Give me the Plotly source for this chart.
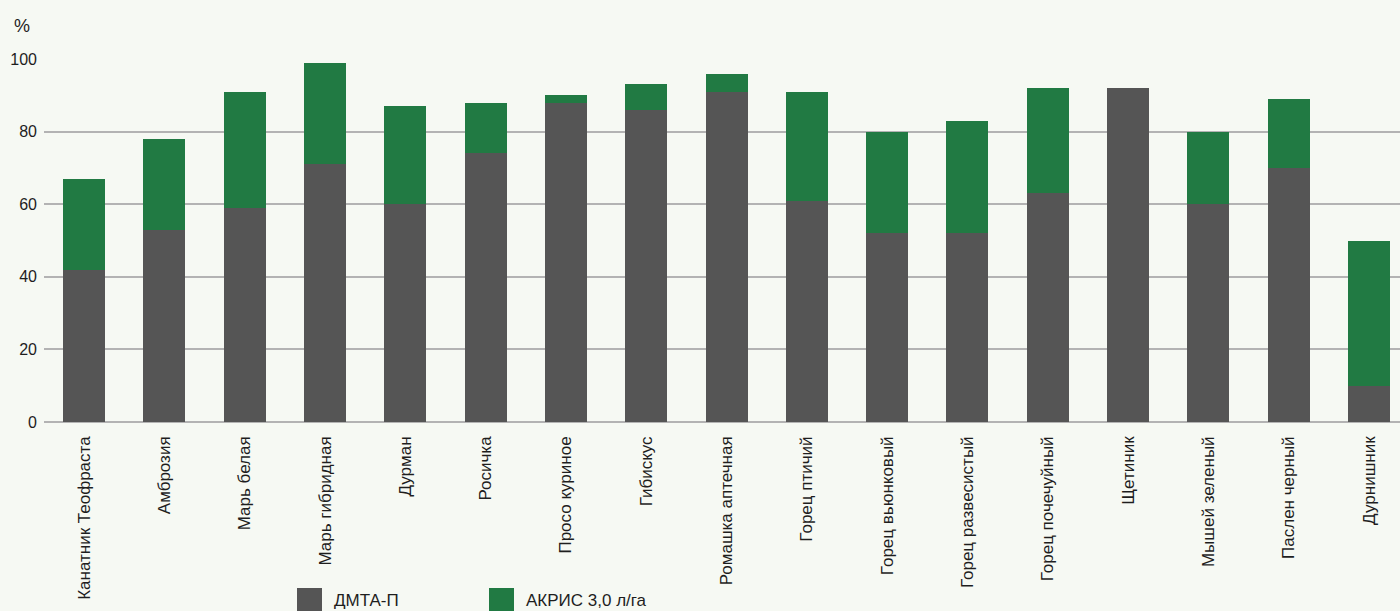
import plotly.graph_objects as go

# Weed species (x categories)
categories = [
    "Канатник Теофраста", "Амброзия", "Марь белая", "Марь гибридная", "Дурман",
    "Росичка", "Просо куриное", "Гибискус", "Ромашка аптечная", "Горец птичий",
    "Горец вьюнковый", "Горец развесистый", "Горец почечуйный", "Щетиник",
    "Мышей зеленый", "Паслен черный", "Дурнишник",
]

# Efficacy, % (lower segment)
dmta_p = [42, 53, 59, 71, 60, 74, 88, 86, 91, 61, 52, 52, 63, 92, 60, 70, 10]
# Total efficacy, % (top of stacked bar)
akris_total = [67, 78, 91, 99, 87, 88, 90, 93, 96, 91, 80, 83, 92, 92, 80, 89, 50]
# Additional segment on top
akris_add = [t - d for t, d in zip(akris_total, dmta_p)]

y_ticks = [0, 20, 40, 60, 80, 100]
legend_names = ["ДМТА-П", "АКРИС 3,0 л/га"]

GRAY = "#555555"
GREEN = "#217a43"
BG = "#f6f9f3"
FONT = "Liberation Sans, Arial, sans-serif"

W, H = 1400, 611
L, T, B = 44, 59, 189
PW, PH = W - L, H - T - B


def px_x(x):
    return (x - L) / PW


def px_y(y):
    return (H - B - y) / PH


fig = go.Figure()
fig.add_trace(go.Bar(x=categories, y=dmta_p, name=legend_names[0],
                     marker=dict(color=GRAY, line=dict(width=0))))
fig.add_trace(go.Bar(x=categories, y=akris_add, name=legend_names[1],
                     marker=dict(color=GREEN, line=dict(width=0))))

fig.update_layout(
    barmode="stack",
    bargap=0.477,
    width=W, height=H,
    margin=dict(l=L, r=0, t=T, b=B),
    paper_bgcolor=BG, plot_bgcolor=BG,
    font=dict(family=FONT, size=16, color="#1e1e1e"),
    showlegend=False,
)
fig.update_xaxes(
    range=[-0.5, 16.386],
    tickangle=-90,
    showgrid=False,
    ticks="", ticklabelstandoff=10,
    tickfont=dict(size=17),
)
fig.update_yaxes(
    range=[0, 100],
    tickvals=y_ticks,
    ticktext=[str(v) for v in y_ticks],
    showgrid=True, gridcolor="#b3b3b3", gridwidth=2,
    zeroline=True, zerolinecolor="#b3b3b3", zerolinewidth=2,
    ticks="", ticklabelstandoff=6,
    tickfont=dict(size=16),
)

# Unit label above the y axis
fig.add_annotation(text="%", xref="paper", yref="paper", x=px_x(12), y=px_y(26),
                   showarrow=False, xanchor="left", yanchor="middle",
                   font=dict(size=18))

# Legend: colour swatches with labels below the chart
for i, (name, col) in enumerate(zip(legend_names, [GRAY, GREEN])):
    x0 = 297 + i * 192
    fig.add_shape(type="rect", xref="paper", yref="paper",
                  x0=px_x(x0), x1=px_x(x0 + 25),
                  y0=px_y(613), y1=px_y(588),
                  fillcolor=col, line=dict(width=0))
    fig.add_annotation(text=name, xref="paper", yref="paper",
                       x=px_x(x0 + 35), y=px_y(600),
                       showarrow=False, xanchor="left", yanchor="middle",
                       font=dict(size=17))

fig.write_html("out.html")
